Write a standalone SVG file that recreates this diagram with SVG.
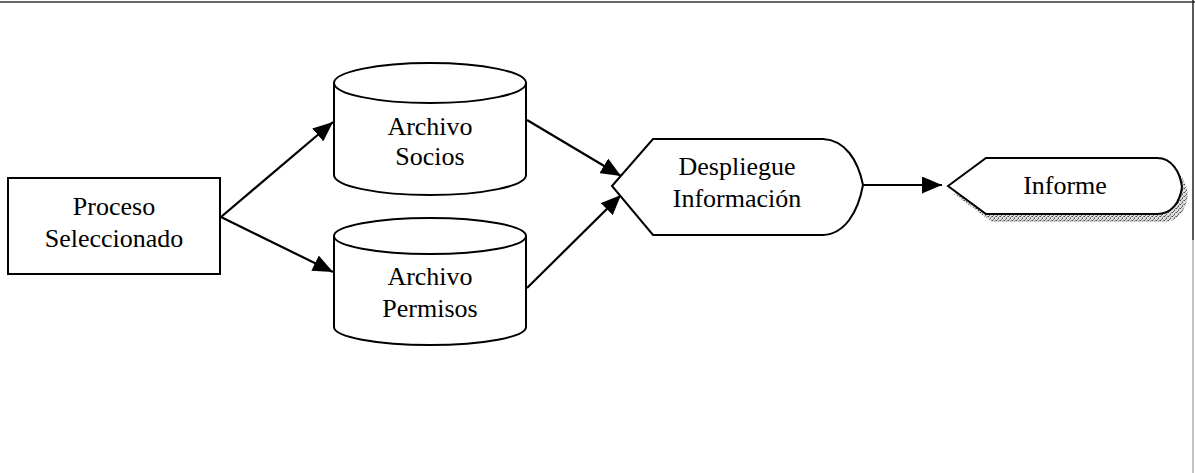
<svg xmlns="http://www.w3.org/2000/svg" width="1195" height="473" viewBox="0 0 1195 473">
<style>
.shape{fill:#fff;stroke:#000;stroke-width:2}
.lbl{font-family:"Liberation Serif","Times New Roman",serif;font-size:26px;fill:#000;text-anchor:middle}
.conn{fill:none;stroke:#000;stroke-width:2.2}
</style>
<defs>
<marker id="arr" markerWidth="20" markerHeight="17" refX="20" refY="8.5" orient="auto" markerUnits="userSpaceOnUse">
<path d="M0,0 L20,8.5 L0,17 Z" fill="#000"/>
</marker>
<pattern id="stip" width="4" height="4" patternUnits="userSpaceOnUse">
<rect width="4" height="4" fill="#ddd"/>
<rect x="0" y="0" width="1" height="1" fill="#444"/>
<rect x="2" y="2" width="1" height="1" fill="#555"/>
<rect x="3" y="0" width="1" height="1" fill="#888"/>
<rect x="1" y="3" width="1" height="1" fill="#777"/>
<rect x="2" y="1" width="1" height="1" fill="#999"/>
</pattern>
</defs>
<rect width="1195" height="473" fill="#fff"/>
<line x1="0" y1="2" x2="1195" y2="2" stroke="#333" stroke-width="1.5"/>
<line x1="1193" y1="0" x2="1193" y2="240" stroke="#222" stroke-width="1.5"/>
<line x1="1193" y1="240" x2="1193" y2="473" stroke="#888" stroke-width="1"/>

<g id="connectors">
<line class="conn" x1="221" y1="217" x2="333" y2="122" marker-end="url(#arr)"/>
<line class="conn" x1="221" y1="217" x2="333" y2="272" marker-end="url(#arr)"/>
<line class="conn" x1="527" y1="120" x2="621" y2="176" marker-end="url(#arr)"/>
<line class="conn" x1="527" y1="288" x2="621" y2="195" marker-end="url(#arr)"/>
<line class="conn" x1="863" y1="185" x2="942" y2="185" marker-end="url(#arr)"/>
</g>

<g id="proceso">
<rect class="shape" x="8" y="178" width="212" height="96"/>
<text class="lbl" x="114" y="215">Proceso</text>
<text class="lbl" x="114" y="247">Seleccionado</text>
</g>

<g id="archivo-socios">
<path class="shape" d="M334,83 L334,175 A96,20 0 0 0 526,175 L526,83"/>
<ellipse class="shape" cx="430" cy="83" rx="96" ry="20"/>
<text class="lbl" x="430" y="135">Archivo</text>
<text class="lbl" x="430" y="165">Socios</text>
</g>

<g id="archivo-permisos">
<path class="shape" d="M334,236 L334,327 A96,18 0 0 0 526,327 L526,236"/>
<ellipse class="shape" cx="430" cy="236" rx="96" ry="18"/>
<text class="lbl" x="430" y="285">Archivo</text>
<text class="lbl" x="430" y="317">Permisos</text>
</g>

<g id="despliegue">
<path class="shape" d="M612,186 L653,139 L823,139 C845,140 858,160 863,185 C858,212 845,234 823,235 L653,235 Z"/>
<text class="lbl" x="737" y="175">Despliegue</text>
<text class="lbl" x="737" y="207">Información</text>
</g>

<g id="informe">
<path d="M954,194 L992,166 L1163,166 C1178,166 1186,180 1188,195 C1186,210 1178,222 1163,222 L992,222 Z" fill="url(#stip)" stroke="none"/>
<path class="shape" d="M948,186 L986,158 L1157,158 C1172,158 1180,172 1182,187 C1180,202 1172,214 1157,214 L986,214 Z"/>
<text class="lbl" x="1065" y="194">Informe</text>
</g>
</svg>
